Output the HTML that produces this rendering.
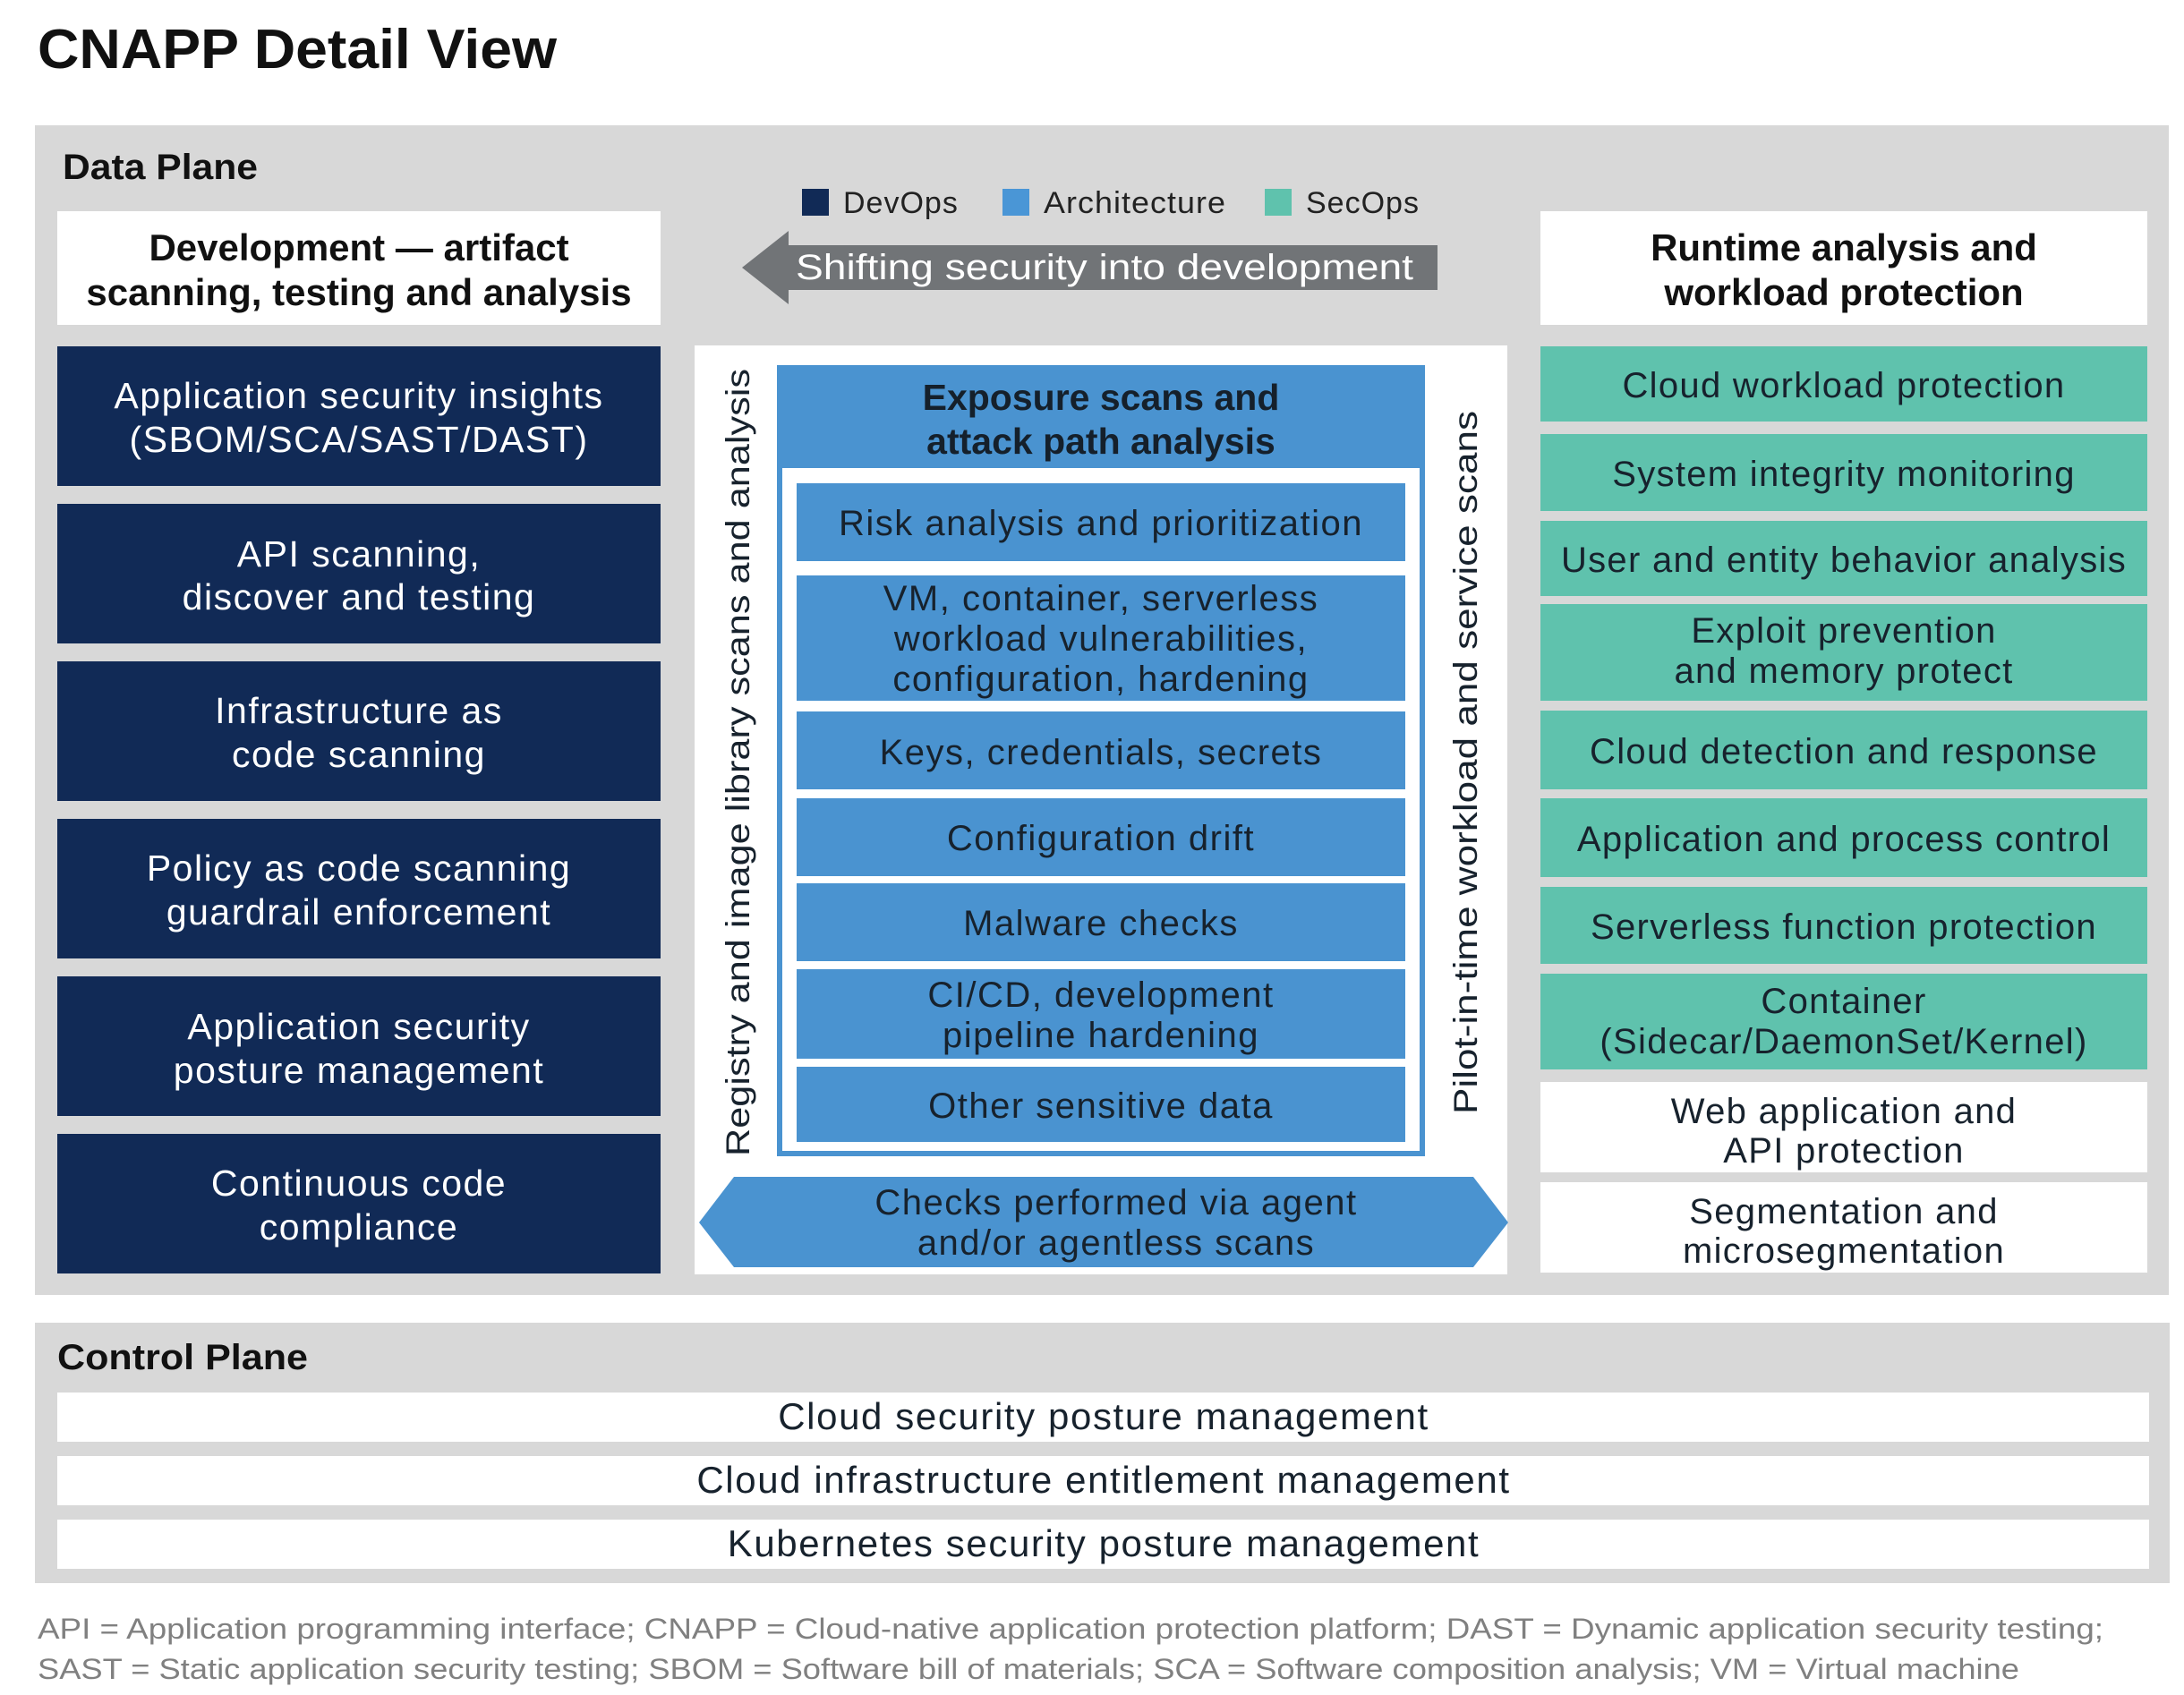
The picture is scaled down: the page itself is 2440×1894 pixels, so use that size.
<!DOCTYPE html>
<html><head><meta charset="utf-8"><style>
html,body{margin:0;padding:0;background:#fff;}
svg{display:block;font-family:"Liberation Sans",sans-serif;}
</style></head><body>
<svg width="2440" height="1894" viewBox="0 0 2440 1894" xmlns="http://www.w3.org/2000/svg">
<rect width="2440" height="1894" fill="#ffffff"/>
<text x="42" y="76" font-size="62" font-weight="bold" fill="#111" textLength="580" lengthAdjust="spacingAndGlyphs">CNAPP Detail View</text>

<g>
<rect x="39" y="140" width="2384" height="1307" fill="#d8d8d8"/>
<text x="70" y="200" font-size="40" font-weight="bold" fill="#111" textLength="218" lengthAdjust="spacingAndGlyphs">Data Plane</text>
</g>

<g font-size="34" fill="#222" letter-spacing="1">
<rect x="896" y="211" width="30" height="30" fill="#112a56"/><text x="942" y="238">DevOps</text>
<rect x="1120" y="211" width="30" height="30" fill="#4a96d6"/><text x="1166" y="238" textLength="204" lengthAdjust="spacingAndGlyphs">Architecture</text>
<rect x="1413" y="211" width="30" height="30" fill="#5fc2ad"/><text x="1459" y="238">SecOps</text>
</g>

<g>
<polygon points="829,299 881,258 881,274 1606,274 1606,324 881,324 881,340" fill="#717477"/>
<text x="1234" y="312" font-size="40" fill="#fff" text-anchor="middle" textLength="690" lengthAdjust="spacingAndGlyphs">Shifting security into development</text>
</g>

<!-- Left column -->
<g text-anchor="middle">
<rect x="64" y="236" width="674" height="127" fill="#fff"/>
<text x="401" y="291" font-size="42" font-weight="bold" fill="#111">Development — artifact</text>
<text x="401" y="341" font-size="42" font-weight="bold" fill="#111">scanning, testing and analysis</text>
<g fill="#112a56">
<rect x="64" y="387" width="674" height="156"/>
<rect x="64" y="563" width="674" height="156"/>
<rect x="64" y="739" width="674" height="156"/>
<rect x="64" y="915" width="674" height="156"/>
<rect x="64" y="1091" width="674" height="156"/>
<rect x="64" y="1267" width="674" height="156"/>
</g>
<g fill="#fff" font-size="41" letter-spacing="1.5">
<text x="401" y="456">Application security insights</text><text x="401" y="505">(SBOM/SCA/SAST/DAST)</text>
<text x="401" y="633">API scanning,</text><text x="401" y="681">discover and testing</text>
<text x="401" y="808">Infrastructure as</text><text x="401" y="857">code scanning</text>
<text x="401" y="984">Policy as code scanning</text><text x="401" y="1033">guardrail enforcement</text>
<text x="401" y="1161">Application security</text><text x="401" y="1210">posture management</text>
<text x="401" y="1336">Continuous code</text><text x="401" y="1385">compliance</text>
</g>
</g>

<!-- Middle -->
<g text-anchor="middle">
<rect x="776" y="386" width="908" height="1038" fill="#fff"/>
<rect x="871" y="411" width="718" height="878" fill="#fff" stroke="#4a93d0" stroke-width="6"/>
<rect x="868" y="408" width="724" height="115" fill="#4a93d0"/>
<text x="1230" y="458" font-size="41" font-weight="bold" fill="#15202b">Exposure scans and</text>
<text x="1230" y="507" font-size="41" font-weight="bold" fill="#15202b">attack path analysis</text>
<g fill="#4a93d0">
<rect x="890" y="540" width="680" height="87"/>
<rect x="890" y="643" width="680" height="140"/>
<rect x="890" y="795" width="680" height="87"/>
<rect x="890" y="892" width="680" height="87"/>
<rect x="890" y="987" width="680" height="87"/>
<rect x="890" y="1083" width="680" height="100"/>
<rect x="890" y="1192" width="680" height="84"/>
</g>
<g fill="#17222d" font-size="40" letter-spacing="1.5">
<text x="1230" y="598">Risk analysis and prioritization</text>
<text x="1230" y="682">VM, container, serverless</text>
<text x="1230" y="727">workload vulnerabilities,</text>
<text x="1230" y="772">configuration,  hardening</text>
<text x="1230" y="854">Keys, credentials, secrets</text>
<text x="1230" y="950">Configuration drift</text>
<text x="1230" y="1045">Malware checks</text>
<text x="1230" y="1125">CI/CD, development</text>
<text x="1230" y="1170">pipeline hardening</text>
<text x="1230" y="1249">Other sensitive data</text>
</g>
<text transform="translate(837,852) rotate(-90)" font-size="37" fill="#17222d" textLength="880" lengthAdjust="spacingAndGlyphs">Registry and image library scans and analysis</text>
<text transform="translate(1650,852) rotate(-90)" font-size="37" fill="#17222d" textLength="786" lengthAdjust="spacingAndGlyphs">Pilot-in-time workload and service scans</text>
<polygon points="781,1366 820,1315 1646,1315 1685,1366 1646,1416 820,1416" fill="#4a93d0"/>
<text x="1247" y="1357" font-size="40" fill="#17222d" letter-spacing="1.5">Checks performed via agent</text>
<text x="1247" y="1402" font-size="40" fill="#17222d" letter-spacing="1.5">and/or agentless scans</text>
</g>

<!-- Right -->
<g text-anchor="middle">
<rect x="1721" y="236" width="678" height="127" fill="#fff"/>
<text x="2060" y="291" font-size="42" font-weight="bold" fill="#111">Runtime analysis and</text>
<text x="2060" y="341" font-size="42" font-weight="bold" fill="#111">workload protection</text>
<g fill="#5fc2ad">
<rect x="1721" y="387" width="678" height="84"/>
<rect x="1721" y="485" width="678" height="86"/>
<rect x="1721" y="582" width="678" height="84"/>
<rect x="1721" y="675" width="678" height="108"/>
<rect x="1721" y="794" width="678" height="88"/>
<rect x="1721" y="892" width="678" height="88"/>
<rect x="1721" y="991" width="678" height="86"/>
<rect x="1721" y="1088" width="678" height="107"/>
</g>
<g fill="#fff">
<rect x="1721" y="1209" width="678" height="101"/>
<rect x="1721" y="1321" width="678" height="101"/>
</g>
<g fill="#17222d" font-size="40" letter-spacing="1.3">
<text x="2060" y="444">Cloud workload protection</text>
<text x="2060" y="543">System integrity monitoring</text>
<text x="2060" y="639">User and entity behavior analysis</text>
<text x="2060" y="718">Exploit prevention</text>
<text x="2060" y="763">and memory protect</text>
<text x="2060" y="853">Cloud detection and response</text>
<text x="2060" y="951">Application and process control</text>
<text x="2060" y="1049">Serverless function protection</text>
<text x="2060" y="1132">Container</text>
<text x="2060" y="1177">(Sidecar/DaemonSet/Kernel)</text>
<text x="2060" y="1255">Web application and</text>
<text x="2060" y="1299">API protection</text>
<text x="2060" y="1367">Segmentation and</text>
<text x="2060" y="1411">microsegmentation</text>
</g>
</g>

<!-- Control plane -->
<g text-anchor="middle">
<rect x="39" y="1478" width="2385" height="291" fill="#d8d8d8"/>
<text x="64" y="1530" font-size="40" font-weight="bold" fill="#111" text-anchor="start" textLength="280" lengthAdjust="spacingAndGlyphs">Control Plane</text>
<rect x="64" y="1556" width="2337" height="55" fill="#fff"/>
<rect x="64" y="1627" width="2337" height="55" fill="#fff"/>
<rect x="64" y="1698" width="2337" height="55" fill="#fff"/>
<g font-size="42" fill="#17222d" letter-spacing="1.6">
<text x="1233" y="1597">Cloud security posture management</text>
<text x="1233" y="1668">Cloud infrastructure entitlement management</text>
<text x="1233" y="1739">Kubernetes security posture management</text>
</g>
</g>

<g font-size="32" fill="#808080">
<text x="42" y="1831" textLength="2308" lengthAdjust="spacingAndGlyphs">API = Application programming interface; CNAPP = Cloud-native application protection platform; DAST = Dynamic application security testing;</text>
<text x="42" y="1876" textLength="2214" lengthAdjust="spacingAndGlyphs">SAST = Static application security testing; SBOM = Software bill of materials; SCA = Software composition analysis; VM = Virtual machine</text>
</g>
</svg>
</body></html>
